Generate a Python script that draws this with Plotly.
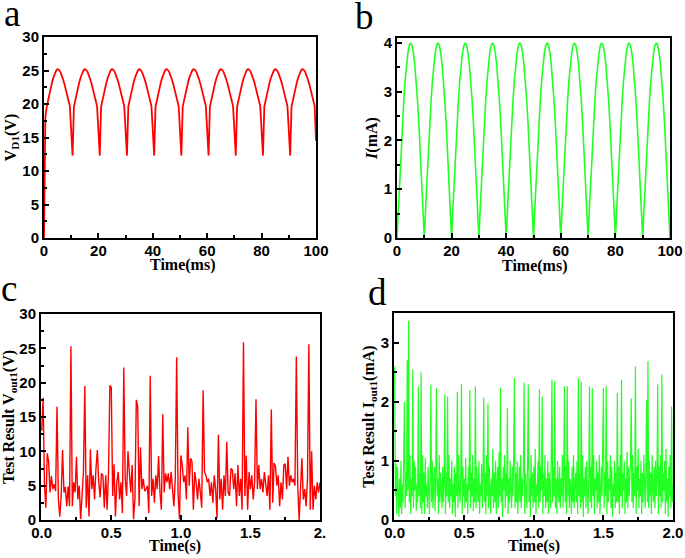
import plotly.graph_objects as go

# ---------------- data ----------------
# panel a: V_D1 (V) sampled every 0.5 ms, 0..100 ms
v_d1 = [
    0.0, 18.0, 19.6, 20.6, 21.6, 22.5, 23.3, 24.0, 24.6, 25.0, 25.2, 25.1, 24.8, 24.3, 23.7, 23.0, 22.2, 21.4, 20.6, 19.7,
    16.0, 12.3, 19.6, 20.6, 21.6, 22.5, 23.3, 24.0, 24.6, 25.0, 25.2, 25.1, 24.8, 24.3, 23.7, 23.0, 22.2, 21.4, 20.6, 19.7,
    16.0, 12.3, 19.6, 20.6, 21.6, 22.5, 23.3, 24.0, 24.6, 25.0, 25.2, 25.1, 24.8, 24.3, 23.7, 23.0, 22.2, 21.4, 20.6, 19.7,
    16.0, 12.3, 19.6, 20.6, 21.6, 22.5, 23.3, 24.0, 24.6, 25.0, 25.2, 25.1, 24.8, 24.3, 23.7, 23.0, 22.2, 21.4, 20.6, 19.7,
    16.0, 12.3, 19.6, 20.6, 21.6, 22.5, 23.3, 24.0, 24.6, 25.0, 25.2, 25.1, 24.8, 24.3, 23.7, 23.0, 22.2, 21.4, 20.6, 19.7,
    16.0, 12.3, 19.6, 20.6, 21.6, 22.5, 23.3, 24.0, 24.6, 25.0, 25.2, 25.1, 24.8, 24.3, 23.7, 23.0, 22.2, 21.4, 20.6, 19.7,
    16.0, 12.3, 19.6, 20.6, 21.6, 22.5, 23.3, 24.0, 24.6, 25.0, 25.2, 25.1, 24.8, 24.3, 23.7, 23.0, 22.2, 21.4, 20.6, 19.7,
    16.0, 12.3, 19.6, 20.6, 21.6, 22.5, 23.3, 24.0, 24.6, 25.0, 25.2, 25.1, 24.8, 24.3, 23.7, 23.0, 22.2, 21.4, 20.6, 19.7,
    16.0, 12.3, 19.6, 20.6, 21.6, 22.5, 23.3, 24.0, 24.6, 25.0, 25.2, 25.1, 24.8, 24.3, 23.7, 23.0, 22.2, 21.4, 20.6, 19.7,
    16.0, 12.3, 19.6, 20.6, 21.6, 22.5, 23.3, 24.0, 24.6, 25.0, 25.2, 25.1, 24.8, 24.3, 23.7, 23.0, 22.2, 21.4, 20.6, 19.7,
    14.5,
]
time_a_ms = [i * 0.5 for i in range(len(v_d1))]

# panel b: I (mA) sampled every 0.5 ms, 0..100 ms
i_ma = [
    0.0, 0.63, 1.24, 1.82, 2.35, 2.83, 3.24, 3.56, 3.80, 3.95, 4.0, 3.95, 3.80, 3.56, 3.24, 2.83, 2.35, 1.82, 1.24, 0.63,
    0.0, 0.63, 1.24, 1.82, 2.35, 2.83, 3.24, 3.56, 3.80, 3.95, 4.0, 3.95, 3.80, 3.56, 3.24, 2.83, 2.35, 1.82, 1.24, 0.63,
    0.0, 0.63, 1.24, 1.82, 2.35, 2.83, 3.24, 3.56, 3.80, 3.95, 4.0, 3.95, 3.80, 3.56, 3.24, 2.83, 2.35, 1.82, 1.24, 0.63,
    0.0, 0.63, 1.24, 1.82, 2.35, 2.83, 3.24, 3.56, 3.80, 3.95, 4.0, 3.95, 3.80, 3.56, 3.24, 2.83, 2.35, 1.82, 1.24, 0.63,
    0.0, 0.63, 1.24, 1.82, 2.35, 2.83, 3.24, 3.56, 3.80, 3.95, 4.0, 3.95, 3.80, 3.56, 3.24, 2.83, 2.35, 1.82, 1.24, 0.63,
    0.0, 0.63, 1.24, 1.82, 2.35, 2.83, 3.24, 3.56, 3.80, 3.95, 4.0, 3.95, 3.80, 3.56, 3.24, 2.83, 2.35, 1.82, 1.24, 0.63,
    0.0, 0.63, 1.24, 1.82, 2.35, 2.83, 3.24, 3.56, 3.80, 3.95, 4.0, 3.95, 3.80, 3.56, 3.24, 2.83, 2.35, 1.82, 1.24, 0.63,
    0.0, 0.63, 1.24, 1.82, 2.35, 2.83, 3.24, 3.56, 3.80, 3.95, 4.0, 3.95, 3.80, 3.56, 3.24, 2.83, 2.35, 1.82, 1.24, 0.63,
    0.0, 0.63, 1.24, 1.82, 2.35, 2.83, 3.24, 3.56, 3.80, 3.95, 4.0, 3.95, 3.80, 3.56, 3.24, 2.83, 2.35, 1.82, 1.24, 0.63,
    0.0, 0.63, 1.24, 1.82, 2.35, 2.83, 3.24, 3.56, 3.80, 3.95, 4.0, 3.95, 3.80, 3.56, 3.24, 2.83, 2.35, 1.82, 1.24, 0.63,
    0.0,
]
time_b_ms = [i * 0.5 for i in range(len(i_ma))]

# panel c: Test Result V_out1 (V), sampled every 0.01 s
v_out1 = [
    13.0, 17.8, 5.0, 1.8, 9.7, 8.5, 4.0, 6.4, 4.5, 5.2,
    4.2, 16.5, 3.0, 0.5, 3.5, 10.2, 4.0, 4.8, 2.0, 4.9,
    2.0, 25.3, 2.0, 5.5, 4.0, 9.2, 3.0, 5.0, 0.1, 3.5,
    7.0, 19.5, 1.8, 6.5, 0.5, 10.3, 4.5, 6.5, 3.0, 7.5,
    10.2, 5.5, 3.3, 6.8, 6.5, 1.8, 6.5, 1.5, 6.8, 19.6,
    19.3, 3.5, 8.1, 0.5, 5.5, 7.0, 3.0, 5.5, 1.0, 22.2,
    6.0, 3.5, 10.0, 7.0, 4.0, 8.0, 0.1, 3.0, 17.5, 16.5,
    2.0, 10.6, 4.5, 6.0, 4.2, 4.5, 5.0, 1.0, 21.0, 3.5,
    6.0, 2.5, 6.5, 4.5, 9.3, 4.0, 1.5, 15.4, 4.0, 6.8,
    5.5, 6.8, 4.5, 7.0, 5.0, 2.0, 6.0, 23.7, 4.0, 0.1,
    9.4, 8.0, 5.5, 6.5, 3.0, 13.5, 5.0, 9.0, 8.5, 1.5,
    7.0, 5.5, 3.0, 6.0, 4.0, 1.8, 18.9, 7.0, 6.5, 5.5,
    6.0, 3.5, 5.5, 2.5, 6.5, 4.5, 0.3, 12.4, 3.0, 6.0,
    1.5, 6.5, 3.5, 11.4, 4.0, 3.5, 7.5, 7.3, 4.5, 6.8,
    2.0, 8.0, 3.5, 6.0, 1.5, 25.9, 3.5, 9.4, 1.5, 7.0,
    4.5, 6.5, 3.0, 5.5, 17.6, 4.5, 8.0, 4.5, 6.0, 4.0,
    7.0, 5.5, 3.5, 6.5, 1.5, 16.1, 2.5, 8.3, 7.8, 5.0,
    6.5, 2.0, 5.5, 3.0, 8.0, 8.2, 4.5, 9.2, 5.0, 6.5,
    5.5, 6.0, 5.0, 23.8, 5.0, 0.0, 5.5, 9.0, 3.0, 4.5,
    2.0, 6.0, 25.6, 1.5, 10.0, 1.5, 5.0, 3.0, 5.5, 4.0,
    5.5,
]
time_c_s = [i * 0.01 for i in range(len(v_out1))]

# panel d: Test Result I_out1 (mA), sampled every 0.005 s
i_out1 = [
    2.6, 0.4, 0.95, 0.1, 0.9, 0.3, 0.05, 0.7, 0.2, 1.0, 0.1, 0.6, 0.3, 1.1, 2.0, 0.2, 0.8, 0.4, 2.7, 0.5,
    3.37, 0.3, 1.1, 0.1, 0.7, 0.4, 2.55, 0.2, 1.0, 0.5, 0.9, 0.15, 0.6, 0.3, 2.26, 0.4, 0.8, 0.2, 2.5, 0.1,
    1.1, 0.3, 0.8, 0.1, 1.05, 0.4, 0.6, 0.2, 0.9, 0.5, 0.1, 0.7, 2.29, 0.3, 1.0, 0.2, 0.6, 0.9, 0.15, 0.8,
    2.23, 0.4, 0.7, 0.1, 1.1, 0.3, 0.8, 0.5, 0.2, 0.9, 0.3, 0.6, 2.12, 0.1, 0.8, 0.4, 2.09, 0.3, 1.1, 0.2,
    0.7, 0.4, 1.0, 0.1, 0.6, 0.3, 0.9, 0.05, 0.8, 0.4, 2.17, 0.2, 1.1, 0.5, 0.3, 0.8, 2.3, 0.1, 0.9, 0.4,
    0.7, 0.2, 1.05, 0.3, 0.6, 0.1, 0.9, 0.5, 2.2, 0.2, 0.8, 0.4, 1.1, 0.15, 0.7, 0.3, 2.26, 0.2, 0.9, 0.5,
    0.3, 1.0, 0.1, 0.6, 0.4, 0.95, 0.2, 0.7, 2.07, 0.3, 0.8, 0.1, 1.1, 0.4, 1.97, 0.2, 0.9, 0.5, 0.1, 0.7,
    0.4, 1.2, 0.2, 0.8, 0.3, 1.0, 0.1, 0.6, 0.9, 0.2, 1.15, 0.4, 2.24, 0.3, 0.7, 0.05, 0.9, 0.5, 1.1, 0.2,
    0.8, 0.4, 1.9, 0.1, 0.7, 0.3, 1.0, 0.5, 0.2, 0.9, 0.4, 1.1, 2.4, 0.2, 0.8, 0.3, 1.0, 0.1, 0.6, 0.9,
    0.3, 1.1, 0.2, 0.7, 0.4, 0.9, 2.32, 0.1, 0.8, 0.5, 0.2, 1.0, 2.29, 0.3, 0.7, 0.05, 1.1, 0.4, 0.8, 0.2,
    0.9, 0.3, 1.2, 0.1, 0.6, 0.4, 1.0, 0.2, 2.21, 0.3, 0.9, 0.5, 2.09, 0.1, 0.8, 0.4, 1.1, 0.2, 0.7, 0.3,
    1.0, 0.1, 0.8, 0.5, 0.2, 1.1, 2.37, 0.3, 0.9, 0.4, 2.34, 0.2, 0.7, 0.1, 1.0, 0.5, 0.3, 0.9, 0.2, 0.7,
    0.4, 1.1, 0.2, 0.8, 2.26, 0.3, 0.9, 0.1, 2.26, 0.4, 1.0, 0.2, 0.7, 0.5, 0.1, 0.9, 0.3, 1.1, 0.2, 0.6,
    0.8, 0.3, 1.0, 0.1, 2.4, 0.4, 0.8, 0.2, 2.34, 0.3, 1.1, 0.05, 0.7, 0.4, 0.9, 0.2, 1.0, 0.5, 0.1, 0.8,
    2.26, 0.3, 0.9, 0.2, 2.23, 0.4, 1.1, 0.1, 0.7, 0.5, 1.0, 0.2, 0.8, 0.3, 1.1, 0.1, 0.6, 0.9, 0.4, 1.0,
    2.23, 0.2, 0.8, 0.4, 2.26, 0.1, 1.0, 0.3, 0.7, 0.5, 1.1, 0.2, 0.9, 0.05, 0.6, 0.4, 1.0, 0.2, 0.8, 0.3,
    2.15, 0.3, 0.9, 0.1, 1.1, 0.4, 2.37, 0.2, 0.8, 0.5, 1.0, 0.1, 0.7, 0.3, 1.15, 0.2, 0.9, 0.4, 0.6, 1.0,
    2.06, 0.3, 1.1, 0.2, 0.8, 0.4, 2.6, 0.1, 0.9, 0.5, 1.2, 0.2, 0.7, 0.4, 1.0, 0.1, 0.8, 0.3, 1.1, 0.5,
    0.2, 0.9, 2.03, 0.3, 2.69, 0.2, 1.0, 0.4, 0.8, 0.1, 1.1, 0.5, 0.3, 0.9, 0.2, 1.0, 0.4, 0.7, 2.29, 0.1,
    0.9, 0.4, 1.1, 0.2, 2.46, 0.3, 0.8, 0.5, 1.0, 0.1, 1.2, 0.3, 0.7, 0.05, 0.9, 0.4, 1.1, 0.2, 1.92, 0.3,
    0.6,
]
time_d_s = [i * 0.005 for i in range(len(i_out1))]

# tick labels
ticks_ms = [0, 20, 40, 60, 80, 100]
ticks_s = [0, 0.5, 1.0, 1.5, 2.0]
ticktext_c = ["0.0", "0.5", "1.0", "1.5", "2."]
ticktext_d = ["0.0", "0.5", "1.0", "1.5", "2.0"]

# ---------------- styling ----------------
W, H = 685, 558
RED = "#ff0000"
GREEN = "#22ff22"
TICK_FONT = dict(family="Liberation Sans, Arial, sans-serif", size=15, color="black", weight="bold")
TITLE_FONT = dict(family="Liberation Serif, Times New Roman, serif", size=16, color="black", weight="bold")


def px_x(a, b):
    return [a / W, b / W]


def px_y(top, bottom):
    return [1 - bottom / H, 1 - top / H]


def make_axis(domain, rng, dtick, minor_dtick, title, anchor, tickvals=None, ticktext=None,
              standoff=2, label_shift=0):
    ax = dict(
        domain=domain, range=rng, anchor=anchor,
        ticks="inside", ticklen=5, tickwidth=1.5, tickcolor="black",
        showline=True, linecolor="black", linewidth=2, mirror=True,
        showgrid=False, zeroline=False, automargin=False,
        tickfont=TICK_FONT, ticklabelstandoff=label_shift,
        minor=dict(ticks="inside", ticklen=3, tickwidth=1.5, tickcolor="black",
                   dtick=minor_dtick, tick0=0, showgrid=False),
    )
    if title:
        ax["title"] = dict(text=title, font=TITLE_FONT, standoff=standoff)
    if tickvals is not None:
        ax.update(tickmode="array", tickvals=tickvals, ticktext=ticktext)
    else:
        ax.update(tick0=0, dtick=dtick)
    return ax


fig = go.Figure()
fig.add_trace(go.Scatter(x=time_a_ms, y=v_d1, mode="lines", line=dict(color=RED, width=1.8),
                         xaxis="x", yaxis="y", showlegend=False))
fig.add_trace(go.Scatter(x=time_b_ms, y=i_ma, mode="lines", line=dict(color=GREEN, width=1.6),
                         xaxis="x2", yaxis="y2", showlegend=False))
fig.add_trace(go.Scatter(x=time_c_s, y=v_out1, mode="lines", line=dict(color=RED, width=1.4),
                         xaxis="x3", yaxis="y3", showlegend=False))
fig.add_trace(go.Scatter(x=time_d_s, y=i_out1, mode="lines", line=dict(color=GREEN, width=1.2),
                         xaxis="x4", yaxis="y4", showlegend=False))

fig.update_layout(
    width=W, height=H,
    margin=dict(l=0, r=0, t=0, b=0),
    paper_bgcolor="white", plot_bgcolor="white",
    xaxis=make_axis(px_x(44, 316), [0, 100], 20, 10, None, "y",
                    tickvals=ticks_ms, ticktext=[str(v) for v in ticks_ms], label_shift=-2),
    yaxis=make_axis(px_y(37, 238), [0, 30], 5, 2.5, "V<sub>D1</sub>(V)", "x"),
    xaxis2=make_axis(px_x(397, 670), [0, 100], 20, 10, None, "y2",
                     tickvals=ticks_ms, ticktext=[str(v) for v in ticks_ms], label_shift=-2),
    yaxis2=make_axis(px_y(38, 238), [0, 4.1], 1, 0.5, "<i>I</i>(mA)", "x2"),
    xaxis3=make_axis(px_x(41, 320), [-0.005, 2.0], 0.5, 0.25, None, "y3",
                     tickvals=ticks_s, ticktext=ticktext_c, label_shift=-2),
    yaxis3=make_axis(px_y(314, 520), [0, 30], 5, 2.5, "Test Result V<sub>out1</sub>(V)", "x3"),
    xaxis4=make_axis(px_x(394, 673), [-0.005, 2.0], 0.5, 0.25, None, "y4",
                     tickvals=ticks_s, ticktext=ticktext_d, label_shift=-2),
    yaxis4=make_axis(px_y(313, 520), [0, 3.5], 1, 0.5, "Test Result I<sub>out1</sub>(mA)", "x4"),
)

# x-axis titles (sit tight under the tick labels, as in the reference)
for text, cx, cy in [("Time(ms)", 182, 265), ("Time(ms)", 534, 266),
                     ("Time(s)", 175, 546), ("Time(s)", 534, 546)]:
    fig.add_annotation(text=text, x=cx / W, y=1 - cy / H, xref="paper", yref="paper",
                       xanchor="center", yanchor="middle", showarrow=False, font=TITLE_FONT)

LETTER_FONT = dict(family="Liberation Serif, Times New Roman, serif", size=37, color="black")
for letter, cx, cy in [("a", 12, 13), ("b", 364, 16), ("c", 9, 289), ("d", 377, 292)]:
    fig.add_annotation(text=letter, x=cx / W, y=1 - cy / H, xref="paper", yref="paper",
                       xanchor="center", yanchor="middle", showarrow=False, font=LETTER_FONT)

fig.write_html(
    "out.html",
    config={"displayModeBar": False},
    post_script="document.body.style.margin='0';document.body.style.overflow='hidden';",
)
